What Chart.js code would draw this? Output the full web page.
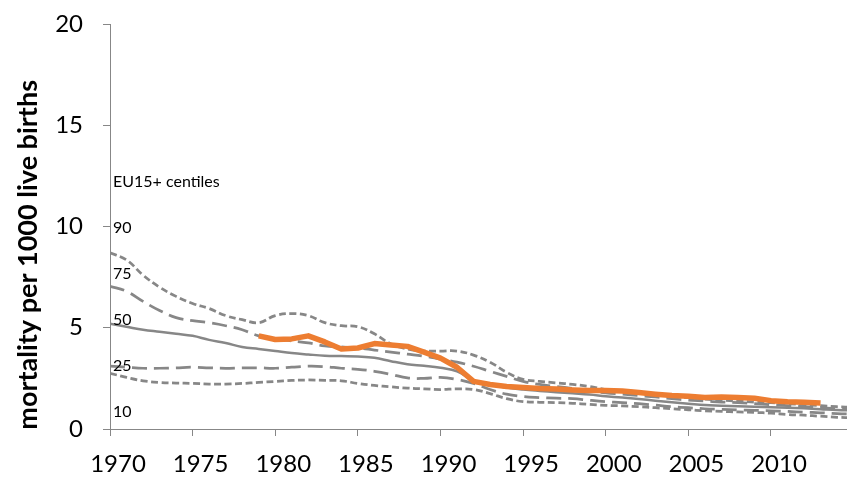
<!DOCTYPE html>
<html>
<head>
<meta charset="utf-8">
<title>Infant mortality, EU15+ centiles</title>
<script src="https://cdn.jsdelivr.net/npm/chart.js@4.4.1/dist/chart.umd.min.js"></script>
<style>
  html, body { margin: 0; padding: 0; background: #ffffff; }
  canvas { display: block; }
</style>
</head>
<body>
<canvas id="chart" width="847" height="486"></canvas>
<script>
// Years covered by the EU15+ centile series
const years = [1970, 1971, 1972, 1973, 1974, 1975, 1976, 1977, 1978, 1979,
               1980, 1981, 1982, 1983, 1984, 1985, 1986, 1987, 1988, 1989,
               1990, 1991, 1992, 1993, 1994, 1995, 1996, 1997, 1998, 1999,
               2000, 2001, 2002, 2003, 2004, 2005, 2006, 2007, 2008, 2009,
               2010, 2011, 2012, 2013, 2014, 2015];

// Mortality per 1000 live births, EU15+ centiles
const p90 = [8.70, 8.35, 7.60, 7.00, 6.55, 6.20, 5.95, 5.60, 5.40, 5.25,
             5.60, 5.70, 5.60, 5.25, 5.10, 5.05, 4.70, 4.20, 3.95, 3.85,
             3.85, 3.85, 3.65, 3.30, 2.80, 2.45, 2.35, 2.28, 2.20, 2.10,
             1.95, 1.88, 1.80, 1.72, 1.62, 1.55, 1.48, 1.42, 1.38, 1.33,
             1.30, 1.25, 1.20, 1.15, 1.10, 1.07];
const p75 = [7.05, 6.80, 6.30, 5.85, 5.50, 5.35, 5.25, 5.10, 4.90, 4.60,
             4.45, 4.35, 4.25, 4.10, 4.05, 4.00, 3.90, 3.80, 3.70, 3.60,
             3.45, 3.30, 3.10, 2.85, 2.60, 2.35, 2.20, 2.10, 2.00, 1.90,
             1.78, 1.72, 1.65, 1.58, 1.50, 1.42, 1.38, 1.33, 1.30, 1.25,
             1.20, 1.15, 1.10, 1.05, 1.00, 0.97];
const p50 = [5.20, 5.05, 4.90, 4.80, 4.70, 4.60, 4.40, 4.25, 4.05, 3.95,
             3.85, 3.75, 3.68, 3.62, 3.60, 3.58, 3.52, 3.35, 3.20, 3.12,
             3.02, 2.85, 2.40, 2.20, 2.05, 1.95, 1.88, 1.82, 1.76, 1.70,
             1.62, 1.55, 1.48, 1.40, 1.32, 1.25, 1.18, 1.15, 1.12, 1.10,
             1.08, 1.05, 1.02, 0.98, 0.94, 0.92];
const p25 = [3.10, 3.05, 3.00, 3.00, 3.02, 3.05, 3.02, 3.00, 3.02, 3.02,
             3.00, 3.05, 3.10, 3.08, 3.00, 2.95, 2.85, 2.70, 2.52, 2.50,
             2.55, 2.45, 2.25, 1.95, 1.72, 1.60, 1.55, 1.52, 1.50, 1.42,
             1.35, 1.30, 1.25, 1.18, 1.10, 1.05, 1.00, 0.97, 0.94, 0.92,
             0.90, 0.87, 0.83, 0.80, 0.76, 0.74];
const p10 = [2.75, 2.55, 2.38, 2.30, 2.27, 2.25, 2.22, 2.22, 2.25, 2.30,
             2.35, 2.40, 2.42, 2.40, 2.38, 2.25, 2.15, 2.08, 2.02, 1.98,
             1.95, 1.98, 1.95, 1.75, 1.50, 1.35, 1.32, 1.30, 1.27, 1.22,
             1.17, 1.14, 1.10, 1.05, 1.00, 0.95, 0.90, 0.87, 0.84, 0.82,
             0.78, 0.72, 0.68, 0.63, 0.58, 0.55];

// National series (highlighted)
const countryYears = [1979, 1980, 1981, 1982, 1983, 1984, 1985, 1986, 1987, 1988,
                      1989, 1990, 1991, 1992, 1993, 1994, 1995, 1996, 1997, 1998,
                      1999, 2000, 2001, 2002, 2003, 2004, 2005, 2006, 2007, 2008,
                      2009, 2010, 2011, 2012, 2013];
const countryRate = [4.60, 4.42, 4.45, 4.60, 4.30, 3.95, 4.00, 4.22, 4.15, 4.08,
                     3.80, 3.50, 3.05, 2.35, 2.20, 2.10, 2.05, 2.00, 1.97, 1.93,
                     1.90, 1.90, 1.88, 1.80, 1.72, 1.65, 1.62, 1.55, 1.58, 1.55,
                     1.52, 1.40, 1.35, 1.32, 1.28];

// Axis ticks and text
const xTickYears = [1970, 1975, 1980, 1985, 1990, 1995, 2000, 2005, 2010];
const yTickValues = [0, 5, 10, 15, 20];
const centileNames = ['90', '75', '50', '25', '10'];
const centileHeading = 'EU15+ centiles';
const yAxisTitle = 'mortality per 1000 live births';

const toPoints = (xs, ys) => xs.map((x, i) => ({ x: x, y: ys[i] }));

const GREY = '#878787';
const ORANGE = '#ED7D31';
const SHORT_DASH = [7, 3.5];
const LONG_DASH = [15, 7];

function greyLine(label, values, dash, width) {
  return {
    label: label,
    data: toPoints(years, values),
    borderColor: GREY,
    borderWidth: width,
    borderDash: dash,
    pointRadius: 0,
    tension: 0.4,
    fill: false,
    order: 2
  };
}

// Centile labels, heading and the rotated y-axis title
const notesPlugin = {
  id: 'centileNotes',
  afterDatasetsDraw(chart, args, opts) {
    const { ctx, chartArea, scales } = chart;
    const y = scales.y;
    ctx.save();
    ctx.fillStyle = '#000000';
    ctx.textAlign = 'left';
    ctx.textBaseline = 'middle';
    ctx.font = '16px Lato';
    const lx = chartArea.left + 3;
    ctx.fillText(centileHeading, lx, y.getPixelForValue(opts.headingLevel));
    centileNames.forEach((name, i) => {
      ctx.fillText(name, lx, y.getPixelForValue(opts.nameLevels[i]));
    });
    ctx.translate(chartArea.left - opts.titleOffsetX, y.getPixelForValue(opts.titleLevel));
    ctx.rotate(-Math.PI / 2);
    ctx.textAlign = 'center';
    ctx.font = 'bold 27px Lato';
    ctx.fillText(yAxisTitle, 0, 0);
    ctx.restore();
  }
};

function build() {
  new Chart(document.getElementById('chart'), {
    type: 'line',
    data: {
      datasets: [
        {
          label: 'country',
          data: toPoints(countryYears, countryRate),
          borderColor: ORANGE,
          borderWidth: 5.5,
          borderJoinStyle: 'round',
          pointRadius: 0,
          tension: 0,
          fill: false,
          order: 1
        },
        greyLine('90th', p90, SHORT_DASH, 2.75),
        greyLine('75th', p75, LONG_DASH, 2.75),
        greyLine('50th', p50, [], 2.5),
        greyLine('25th', p25, LONG_DASH, 2.75),
        greyLine('10th', p10, SHORT_DASH, 2.75)
      ]
    },
    options: {
      responsive: false,
      animation: false,
      devicePixelRatio: 1,
      layout: { padding: { top: 24, right: 0, bottom: 0, left: 0 } },
      plugins: {
        legend: { display: false },
        tooltip: { enabled: false },
        centileNotes: {
          headingLevel: 12.2,
          nameLevels: [9.95, 7.68, 5.38, 3.11, 0.84],
          titleLevel: 8.6,
          titleOffsetX: 82
        }
      },
      scales: {
        x: {
          type: 'linear',
          min: 1970,
          max: 2014.6,
          afterFit(scale) {
            scale.height = 57;
            scale.paddingLeft = 0;
            scale.paddingRight = 0;
          },
          afterBuildTicks(scale) { scale.ticks = xTickYears.map(v => ({ value: v })); },
          ticks: {
            autoSkip: false,
            maxRotation: 0,
            padding: 14,
            labelOffset: 8,
            color: '#000000',
            font: { family: 'Lato', size: 24 },
            callback: v => String(v)
          },
          grid: {
            display: true,
            drawOnChartArea: false,
            drawTicks: true,
            tickLength: 7,
            color: GREY,
            lineWidth: 1
          },
          border: { display: true, color: GREY, width: 1 }
        },
        y: {
          type: 'linear',
          min: 0,
          max: 20,
          afterFit(scale) {
            scale.width = 110;
            scale.paddingTop = 0;
            scale.paddingBottom = 0;
          },
          afterBuildTicks(scale) { scale.ticks = yTickValues.map(v => ({ value: v })); },
          ticks: {
            padding: 20,
            color: '#000000',
            font: { family: 'Lato', size: 24 },
            callback: v => String(v)
          },
          grid: {
            display: true,
            drawOnChartArea: false,
            drawTicks: true,
            tickLength: 7,
            color: GREY,
            lineWidth: 1
          },
          border: { display: true, color: GREY, width: 1 }
        }
      }
    },
    plugins: [notesPlugin]
  });
}

if (document.fonts && document.fonts.load) {
  Promise.all([
    document.fonts.load('24px Lato'),
    document.fonts.load('bold 27px Lato'),
    document.fonts.load('16px Lato')
  ]).then(build, build);
} else {
  build();
}
</script>
</body>
</html>
